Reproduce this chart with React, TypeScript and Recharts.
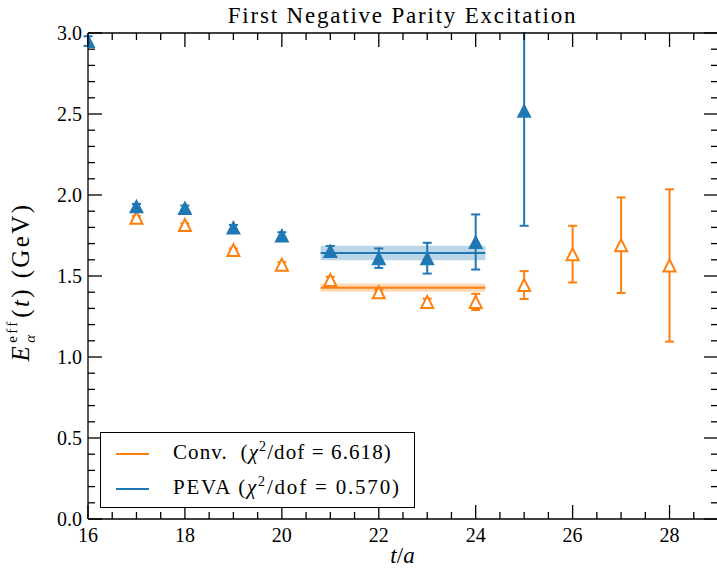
import React from 'react';
import { ComposedChart, Scatter, XAxis, YAxis, ErrorBar, ReferenceArea, ReferenceLine, Customized } from 'recharts';

// PEVA effective energies (filled markers)
const pevaT = [16, 17, 18, 19, 20, 21, 22, 23, 24, 25];
const pevaE = [2.95, 1.93, 1.92, 1.8, 1.75, 1.655, 1.61, 1.61, 1.71, 2.52];
const pevaErr = [0.03, 0.015, 0.015, 0.015, 0.02, 0.03, 0.06, 0.095, 0.17, 0.71];

// Conventional effective energies (hollow markers)
const convT = [17, 18, 19, 20, 21, 22, 23, 24, 25, 26, 27, 28];
const convE = [1.86, 1.815, 1.66, 1.57, 1.475, 1.4, 1.34, 1.34, 1.444, 1.635, 1.69, 1.565];
const convErr = [0.01, 0.01, 0.01, 0.015, 0.02, 0.015, 0.02, 0.05, 0.086, 0.175, 0.295, 0.47];

// fit results over the window
const fitRange = [20.8, 24.2];
const pevaFit = [1.642, 0.045];
const convFit = [1.428, 0.025];

const xMajorTicks = [16, 18, 20, 22, 24, 26, 28];
const yMajorTicks = [0, 0.5, 1, 1.5, 2, 2.5, 3];
const yTickLabels = ['0.0', '0.5', '1.0', '1.5', '2.0', '2.5', '3.0'];

const xTicks = Array.from({ length: 26 }, (_, i) => 16 + i * 0.5);
const yTicks = Array.from({ length: 31 }, (_, i) => i / 10);

const blue = '#1f77b4';
const orange = '#ff7f0e';
const serif = '"Liberation Serif", "Times New Roman", serif';

const W = 719;
const H = 568;
const margin = { top: 32, right: 0, bottom: 48, left: 87 };
// plot box (axis sizes are 1px each)
const plot = { x: margin.left + 1, y: margin.top + 1, w: W - margin.left - margin.right - 2, h: H - margin.top - margin.bottom - 2 };

const pevaData = pevaT.map((t, i) => ({ t, e: pevaE[i], err: pevaErr[i] }));
const convData = convT.map((t, i) => ({ t, e: convE[i], err: convErr[i] }));

const isMajor = (v: number, list: number[]) => list.some((m) => Math.abs(m - v) < 1e-6);

const labelStyle = { fontFamily: serif, fontSize: 20 };

const BottomTick = ({ x, y, payload }: any) => {
  const major = isMajor(payload.value, xMajorTicks);
  return (
    <g>
      <line x1={x} x2={x} y1={y} y2={y - (major ? 14 : 7)} stroke="#000" strokeWidth={1.3} />
      {major && (
        <text x={x} y={y + 23} textAnchor="middle" fontFamily="Liberation Serif" style={labelStyle} fill="#000">
          {payload.value}
        </text>
      )}
    </g>
  );
};

const TopTick = ({ x, y, payload }: any) => {
  const major = isMajor(payload.value, xMajorTicks);
  return <line x1={x} x2={x} y1={y} y2={y + (major ? 14 : 7)} stroke="#000" strokeWidth={1.3} />;
};

const LeftTick = ({ x, y, payload }: any) => {
  const idx = yMajorTicks.findIndex((m) => Math.abs(m - payload.value) < 1e-6);
  const major = idx >= 0;
  return (
    <g>
      <line x1={x} x2={x + (major ? 14 : 7)} y1={y} y2={y} stroke="#000" strokeWidth={1.3} />
      {major && (
        <text x={x - 6} y={y + 7} textAnchor="end" fontFamily="Liberation Serif" style={labelStyle} fill="#000">
          {yTickLabels[idx]}
        </text>
      )}
    </g>
  );
};

const RightTick = ({ x, y, payload }: any) => {
  const major = isMajor(payload.value, yMajorTicks);
  return <line x1={x} x2={x - (major ? 14 : 7)} y1={y} y2={y} stroke="#000" strokeWidth={1.3} />;
};

const PlotClip = () => (
  <defs>
    <clipPath id="plot-clip">
      <rect x={plot.x} y={plot.y} width={plot.w} height={plot.h} />
    </clipPath>
  </defs>
);

const FilledTriangle = ({ cx, cy }: any) => (
  <polygon
    clipPath="url(#plot-clip)"
    points={`${cx},${cy - 7.5} ${cx - 7.5},${cy + 7} ${cx + 7.5},${cy + 7}`}
    fill={blue}
  />
);

const HollowTriangle = ({ cx, cy }: any) => (
  <polygon
    clipPath="url(#plot-clip)"
    points={`${cx},${cy - 6} ${cx - 6},${cy + 6} ${cx + 6},${cy + 6}`}
    fill="#fff"
    stroke={orange}
    strokeWidth={2}
  />
);

const NoMarker = () => <g />;

const Chi = () => (
  <span>
    (<i>χ</i>
    <sup style={{ fontSize: 14, verticalAlign: 8, lineHeight: 0 }}>2</sup>/dof ={' '}
  </span>
);

const axisLine = { stroke: '#000', strokeWidth: 1.3 };

export default function App() {
  return (
    <div style={{ position: 'absolute', left: 0, top: 0, width: 717, height: 568, background: '#fff', overflow: 'hidden', fontFamily: serif }}>
      <ComposedChart width={W} height={H} margin={margin}>
        <Customized component={PlotClip} />
        <XAxis
          xAxisId="b"
          dataKey="t"
          type="number"
          domain={[16, 29]}
          allowDataOverflow
          ticks={xTicks}
          interval={0}
          height={1}
          tickSize={0}
          tickMargin={0}
          tick={<BottomTick />}
          axisLine={axisLine}
        />
        <XAxis
          xAxisId="top"
          orientation="top"
          dataKey="t"
          type="number"
          domain={[16, 29]}
          allowDataOverflow
          ticks={xTicks}
          interval={0}
          height={1}
          tickSize={0}
          tickMargin={0}
          tick={<TopTick />}
          axisLine={axisLine}
        />
        <YAxis
          yAxisId="l"
          type="number"
          domain={[0, 3]}
          allowDataOverflow
          ticks={yTicks}
          interval={0}
          width={1}
          tickSize={0}
          tickMargin={0}
          tick={<LeftTick />}
          axisLine={axisLine}
        />
        <YAxis
          yAxisId="r"
          orientation="right"
          type="number"
          domain={[0, 3]}
          allowDataOverflow
          ticks={yTicks}
          interval={0}
          width={1}
          tickSize={0}
          tickMargin={0}
          tick={<RightTick />}
          axisLine={axisLine}
        />

        <ReferenceArea
          xAxisId="b"
          yAxisId="l"
          x1={fitRange[0]}
          x2={fitRange[1]}
          y1={pevaFit[0] - pevaFit[1]}
          y2={pevaFit[0] + pevaFit[1]}
          fill={blue}
          fillOpacity={0.3}
          stroke="none"
        />
        <ReferenceArea
          xAxisId="b"
          yAxisId="l"
          x1={fitRange[0]}
          x2={fitRange[1]}
          y1={convFit[0] - convFit[1]}
          y2={convFit[0] + convFit[1]}
          fill={orange}
          fillOpacity={0.3}
          stroke="none"
        />
        <ReferenceLine
          xAxisId="b"
          yAxisId="l"
          segment={[{ x: fitRange[0], y: pevaFit[0] }, { x: fitRange[1], y: pevaFit[0] }]}
          stroke={blue}
          strokeWidth={2}
        />
        <ReferenceLine
          xAxisId="b"
          yAxisId="l"
          segment={[{ x: fitRange[0], y: convFit[0] }, { x: fitRange[1], y: convFit[0] }]}
          stroke={orange}
          strokeWidth={2}
        />

        <Scatter xAxisId="b" yAxisId="l" data={convData} dataKey="e" shape={<NoMarker />} isAnimationActive={false}>
          <ErrorBar dataKey="err" direction="y" width={4.5} stroke={orange} strokeWidth={2} isAnimationActive={false} />
        </Scatter>
        <Scatter xAxisId="b" yAxisId="l" data={pevaData} dataKey="e" shape={<NoMarker />} isAnimationActive={false}>
          <ErrorBar dataKey="err" direction="y" width={4.5} stroke={blue} strokeWidth={2} isAnimationActive={false} />
        </Scatter>
        <Scatter xAxisId="b" yAxisId="l" data={convData} dataKey="e" shape={<HollowTriangle />} isAnimationActive={false} />
        <Scatter xAxisId="b" yAxisId="l" data={pevaData} dataKey="e" shape={<FilledTriangle />} isAnimationActive={false} />
      </ComposedChart>

      {/* white strip above the frame so the long error bar stops at the top axis */}
      <div style={{ position: 'absolute', left: 88, width: 629, top: 0, height: 32, background: '#fff' }} />

      <div style={{ position: 'absolute', left: 88, width: 629, top: 3, textAlign: 'center', fontSize: 23, letterSpacing: 1.8, color: '#000' }}>
        First Negative Parity Excitation
      </div>

      <div style={{ position: 'absolute', left: 88, width: 629, top: 543, textAlign: 'center', fontSize: 23, color: '#000' }}>
        <i>t</i>/<i>a</i>
      </div>

      <div
        style={{
          position: 'absolute',
          left: 21,
          top: 282,
          transform: 'translate(-50%, -50%) rotate(-90deg)',
          whiteSpace: 'nowrap',
          fontSize: 25,
          letterSpacing: 2.4,
          color: '#000',
        }}
      >
        <i>E</i>
        <span style={{ position: 'relative', display: 'inline-block', width: 26, height: 10 }}>
          <span style={{ position: 'absolute', left: 1, top: -15, fontSize: 15 }}>eff</span>
          <i style={{ position: 'absolute', left: 1, top: 3, fontSize: 15 }}>α</i>
        </span>
        (<i>t</i>) (GeV)
      </div>

      <div
        style={{
          position: 'absolute',
          left: 100,
          top: 432,
          width: 313,
          height: 74,
          border: '1.3px solid #000',
          background: '#fff',
          fontSize: 21,
          color: '#000',
        }}
      >
        <div style={{ position: 'absolute', left: 15, top: 20, width: 33, height: 1.5, background: orange }} />
        <div style={{ position: 'absolute', left: 72, top: 7, whiteSpace: 'nowrap', letterSpacing: 1.1 }}>
          Conv.&nbsp; <Chi />6.618)
        </div>
        <div style={{ position: 'absolute', left: 15, top: 55, width: 33, height: 1.5, background: blue }} />
        <div style={{ position: 'absolute', left: 72, top: 42, whiteSpace: 'nowrap', letterSpacing: 1.8 }}>
          PEVA <Chi />0.570)
        </div>
      </div>
    </div>
  );
}
